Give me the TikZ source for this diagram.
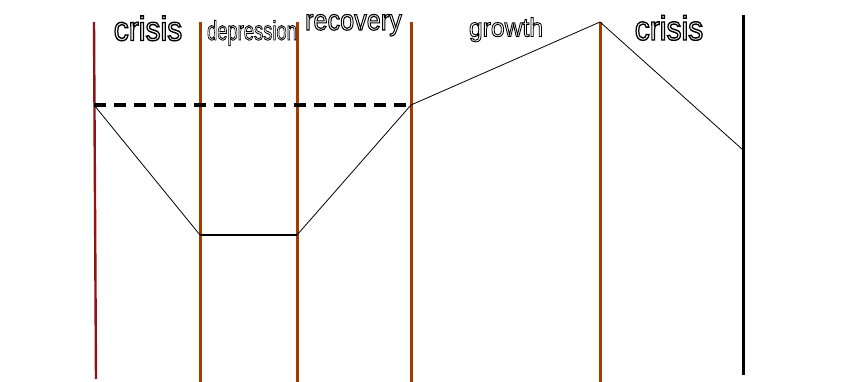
\documentclass[tikz,border=0pt]{standalone}
\usepackage{fontspec}
\setmainfont{Liberation Sans}
\newcommand\hollowtext[2][1.4]{\special{pdf:literal direct 1 Tr #1 w}#2\special{pdf:literal direct 0 Tr}}
\definecolor{phasered}{RGB}{145,18,18}
\definecolor{phaseline}{RGB}{163,58,0}
\tikzset{
  border/.style={draw=phaseline, line width=3pt},
  firstborder/.style={draw=phasered, line width=2.4pt},
  endborder/.style={draw=black, line width=3pt},
  curve/.style={draw=black, line width=0.8pt},
  flatpart/.style={draw=black, line width=2pt},
  level/.style={draw=black, line width=3.2pt, dash pattern=on 12pt off 8pt},
  lbl/.style={inner sep=0pt, anchor=base}
}
\begin{document}
\begin{tikzpicture}[x=1pt,y=-1pt]
\useasboundingbox (0,0) rectangle (862,382);
\coordinate (a1) at (94,22);  \coordinate (a2) at (96,379);
\coordinate (b1) at (200,22); \coordinate (b2) at (200,382);
\coordinate (c1) at (297,22); \coordinate (c2) at (297,382);
\coordinate (d1) at (411,22); \coordinate (d2) at (411,382);
\coordinate (e1) at (600,22); \coordinate (e2) at (600,382);
\coordinate (f1) at (743,15); \coordinate (f2) at (743,375);
\coordinate (p1) at (94,105);
\coordinate (p2) at (200,235);
\coordinate (p3) at (297,235);
\coordinate (p4) at (411,105);
\coordinate (p5) at (600,22);
\coordinate (p6) at (743,150);
\draw[firstborder] (a1) -- (a2);
\draw[border] (b1) -- (b2);
\draw[border] (c1) -- (c2);
\draw[border] (d1) -- (d2);
\draw[border] (e1) -- (e2);
\draw[endborder] (f1) -- (f2);
\draw[curve] (p1) -- (p2);
\draw[flatpart] (p2) -- (p3);
\draw[curve] (p3) -- (p4) -- (p5) -- (p6);
\draw[level] (p1) -- (p4);
\node[lbl, font=\fontsize{34}{34}\selectfont, xscale=0.885] (t1) at (148,40.5) {\hollowtext{crisis}};
\node[lbl, font=\fontsize{27}{27}\selectfont, xscale=0.68] (t2) at (252,40) {\hollowtext[0.9]{depression}};
\node[lbl, font=\fontsize{29}{29}\selectfont, xscale=0.87] (t3) at (353.5,30) {\hollowtext[1.1]{recovery}};
\node[lbl, font=\fontsize{26}{26}\selectfont, xscale=0.95] (t4) at (506,36.5) {\hollowtext[0.9]{growth}};
\node[lbl, font=\fontsize{34}{34}\selectfont, xscale=0.885] (t5) at (669,40) {\hollowtext{crisis}};
\end{tikzpicture}
\end{document}
